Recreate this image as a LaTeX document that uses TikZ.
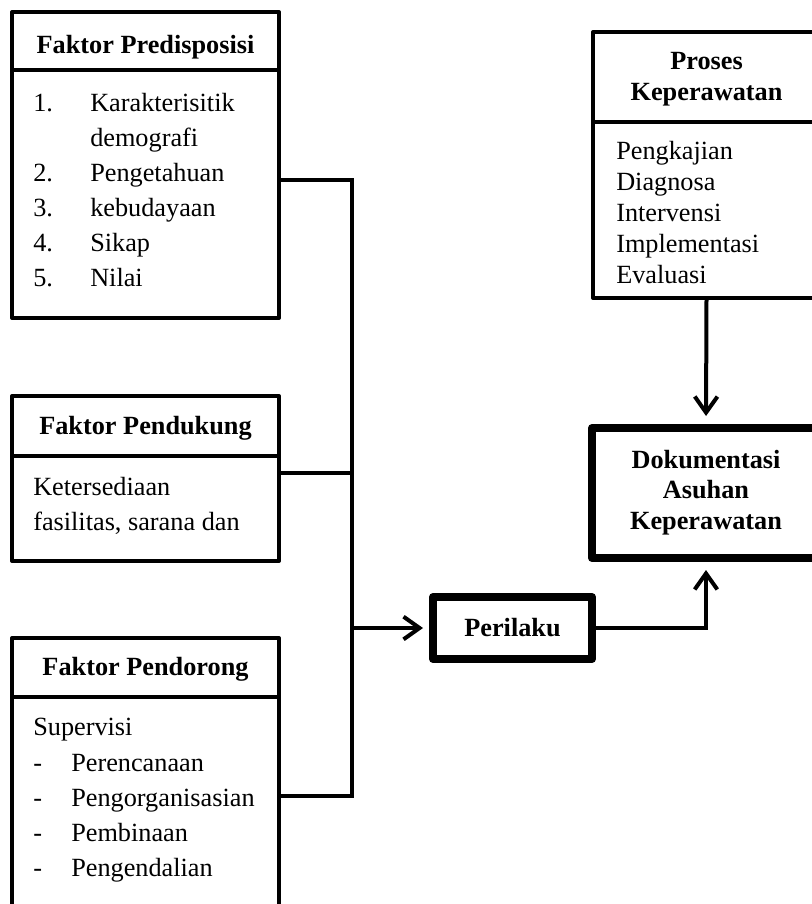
\documentclass[tikz,border=0pt]{standalone}
\usepackage{fontspec}
\setmainfont{Liberation Serif}
\usetikzlibrary{arrows.meta,positioning}
\newcommand{\dgfont}{\fontsize{19.7}{23}\selectfont}

\begin{document}
\begin{tikzpicture}[x=0.75pt, y=-0.75pt,
    box/.style={draw, line width=3pt, line join=round, inner sep=0pt},
    boldbox/.style={draw, line width=6pt, line join=round, inner sep=0pt, font=\dgfont\bfseries},
    txt/.style={anchor=base west, inner sep=0pt, font=\dgfont},
    ttl/.style={anchor=base, inner sep=0pt, font=\dgfont\bfseries},
    link/.style={line width=3pt},
    arr/.style={line width=3pt, -{Straight Barb[length=12pt, width=17pt]}}
]
\clip (0,0) rectangle (812,904);

% Faktor predisposisi
\node[box, minimum width=200.25pt, minimum height=229.5pt] (pre) at (145.5,165) {};
\draw[link] (pre.west |- 0,70) -- (pre.east |- 0,70);
\node[ttl] (pre title) at (145.5,53.5) {Faktor Predisposisi};
\foreach \n/\r in {1/0,2/2,3/3,4/4,5/5} {
    \node[txt] (pre num\n) at (33,{111.7+35*\r}) {\n.};
}
\foreach \t [count=\i from 0] in {Karakterisitik,demografi,Pengetahuan,kebudayaan,Sikap,Nilai} {
    \node[txt] (pre item\i) at (90,{111.7+35*\i}) {\t};
}

% Faktor pendukung
\node[box, minimum width=200.25pt, minimum height=123.75pt] (duk) at (145.5,478.5) {};
\draw[link] (duk.west |- 0,455.5) -- (duk.east |- 0,455.5);
\node[ttl] (duk title) at (145.5,434) {Faktor Pendukung};
\foreach \t [count=\i from 0] in {Ketersediaan,{fasilitas, sarana dan}} {
    \node[txt] (duk item\i) at (33,{495+35*\i}) {\t};
}

% Faktor pendorong
\node[box, minimum width=200.25pt, minimum height=241.5pt] (dor) at (145.5,799) {};
\draw[link] (dor.west |- 0,697) -- (dor.east |- 0,697);
\node[ttl] (dor title) at (145.5,675) {Faktor Pendorong};
\node[txt] (dor head) at (33,735) {Supervisi};
\foreach \t [count=\i from 0] in {Perencanaan,Pengorganisasian,Pembinaan,Pengendalian} {
    \node[txt] (dor dash\i) at (33,{771.7+35*\i}) {-};
    \node[txt] (dor item\i) at (71,{771.7+35*\i}) {\t};
}

% Proses keperawatan
\node[box, minimum width=170.25pt, minimum height=199.5pt] (proses) at (706.5,165) {};
\draw[link] (proses.west |- 0,122) -- (proses.east |- 0,122);
\node[ttl] (proses title1) at (706.5,69) {Proses};
\node[ttl] (proses title2) at (706.5,100) {Keperawatan};
\foreach \t [count=\i from 0] in {Pengkajian,Diagnosa,Intervensi,Implementasi,Evaluasi} {
    \node[txt] (proses item\i) at (616,{159+31*\i}) {\t};
}

% Dokumentasi
\node[boldbox, minimum width=171pt, minimum height=97.5pt] (doku) at (706,493) {};
\foreach \t [count=\i from 0] in {Dokumentasi,Asuhan,Keperawatan} {
    \node[ttl] (doku line\i) at (706,{468+30.5*\i}) {\t};
}

% Perilaku
\node[boldbox, minimum width=119.25pt, minimum height=46.5pt] (perilaku) at (512.5,628) {Perilaku};

% garis penghubung
\coordinate (bus top) at (352,180);
\coordinate (bus mid) at (352,473);
\coordinate (bus bot) at (352,796);
\draw[link] (pre.east |- bus top) -- (bus top) -- (bus bot) -- (dor.east |- bus bot);
\draw[link] (duk.east |- bus mid) -- (bus mid);
\draw[arr, shorten >=4.5pt] (bus top |- perilaku.west) -- (perilaku.west);
\draw[arr, shorten >=6pt] (perilaku.east) -| (doku.south);
\draw[arr, shorten >=6pt] (proses.south) -- (doku.north);
\end{tikzpicture}
\end{document}
